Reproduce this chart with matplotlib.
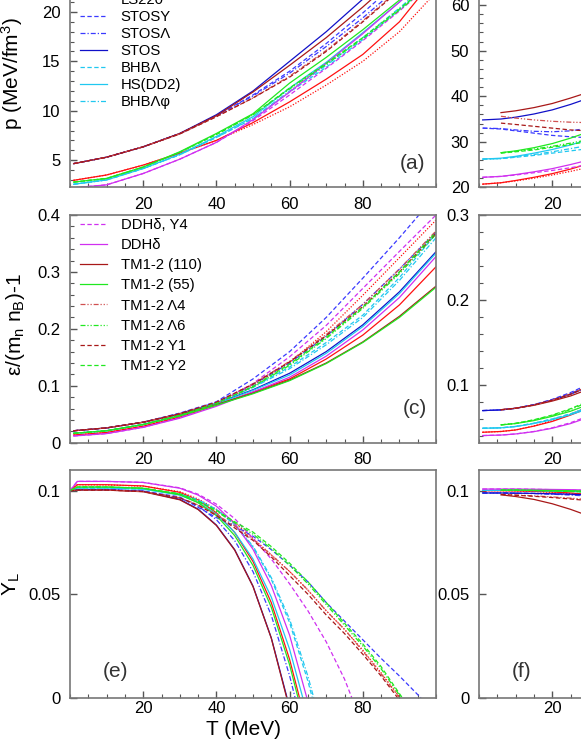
import matplotlib.pyplot as plt
from matplotlib.ticker import MultipleLocator, FixedLocator, FixedFormatter, FormatStrFormatter

plt.rcParams['font.family'] = ['Liberation Sans', 'DejaVu Sans']
plt.rcParams['mathtext.fontset'] = 'custom'
plt.rcParams['mathtext.rm'] = 'Liberation Sans'
plt.rcParams['mathtext.it'] = 'Liberation Sans'
plt.rcParams['mathtext.default'] = 'regular'

# temperature grids (MeV)
T = [1, 10, 20, 30, 40, 50, 60, 70, 80, 90, 100]
T_e = [0, 2, 10, 20, 30, 35, 40, 45, 50, 55, 60, 65, 70, 75, 80, 85, 90, 95]
T_r = [1, 6, 10, 15, 20, 25, 30]

nan = float('nan')

# (a) pressure, left column
p_left = {
    'LS220 hyp':     [2.96, 3.5, 4.5, 5.7, 7.0, 8.6, 10.4, 12.6, 15.0, 18.0, 22.0],
    'LS220':         [2.96, 3.5, 4.5, 5.7, 7.0, 8.8, 10.9, 13.2, 15.7, 19.0, 23.6],
    'STOSY':         [4.65, 5.3, 6.35, 7.7, 9.5, 11.6, 14.0, 16.8, 19.9, 23.2, 26.7],
    'STOSΛ':         [4.65, 5.3, 6.35, 7.7, 9.5, 11.5, 13.8, 16.5, 19.4, 22.6, 26.0],
    'STOS':          [4.65, 5.3, 6.35, 7.7, 9.6, 12.0, 15.0, 18.0, 21.3, 24.8, 28.5],
    'BHBΛ':          [2.56, 3.0, 4.15, 5.55, 7.3, 9.2, 11.9, 14.4, 17.2, 20.2, 23.4],
    'HS(DD2)':       [2.56, 3.0, 4.15, 5.6, 7.4, 9.4, 12.3, 14.9, 17.9, 21.0, 24.3],
    'BHBΛφ':         [2.56, 3.0, 4.15, 5.55, 7.3, 9.25, 12.0, 14.6, 17.4, 20.4, 23.6],
    'DDHδ, Y4':      [2.2, 2.5, 3.65, 5.1, 6.8, 9.0, 11.6, 14.3, 17.1, 20.1, 23.3],
    'DDHδ':          [2.2, 2.5, 3.65, 5.1, 6.8, 9.1, 11.9, 14.8, 17.8, 21.0, 24.4],
    'TM1-2 (110)':   [4.65, 5.3, 6.35, 7.7, 9.5, 11.9, 14.6, 17.4, 20.5, 23.8, 27.3],
    'TM1-2 (55)':    [2.78, 3.15, 4.3, 5.85, 7.7, 9.7, 12.8, 15.4, 18.2, 21.2, 24.4],
    'TM1-2 Λ4':      [4.65, 5.3, 6.35, 7.65, 9.4, 11.3, 13.5, 16.1, 19.1, 22.3, 25.8],
    'TM1-2 Λ6':      [2.78, 3.15, 4.3, 5.8, 7.6, 9.6, 12.2, 14.7, 17.3, 20.2, 23.2],
    'TM1-2 Y1':      [4.65, 5.3, 6.35, 7.65, 9.4, 11.3, 13.4, 16.0, 19.0, 22.2, 25.6],
    'TM1-2 Y2':      [2.78, 3.15, 4.3, 5.8, 7.6, 9.6, 12.3, 14.8, 17.4, 20.3, 23.4],
}

# (c) energy per baryon, left column
e_left = {
    'LS220 hyp':     [0.0135, 0.018, 0.029, 0.046, 0.069, 0.100, 0.141, 0.195, 0.259, 0.325, 0.391],
    'LS220':         [0.0135, 0.018, 0.029, 0.045, 0.066, 0.089, 0.112, 0.147, 0.189, 0.242, 0.309],
    'STOSY':         [0.021, 0.026, 0.036, 0.052, 0.072, 0.112, 0.160, 0.220, 0.289, 0.360, 0.435],
    'STOSΛ':         [0.021, 0.026, 0.036, 0.051, 0.071, 0.102, 0.140, 0.187, 0.243, 0.305, 0.370],
    'STOS':          [0.021, 0.026, 0.036, 0.051, 0.069, 0.093, 0.122, 0.160, 0.207, 0.265, 0.3355],
    'BHBΛ':          [0.0165, 0.021, 0.032, 0.048, 0.069, 0.098, 0.133, 0.176, 0.224, 0.290, 0.367],
    'HS(DD2)':       [0.0165, 0.021, 0.032, 0.048, 0.068, 0.092, 0.119, 0.157, 0.204, 0.262, 0.333],
    'BHBΛφ':         [0.0165, 0.021, 0.032, 0.048, 0.069, 0.097, 0.130, 0.172, 0.220, 0.285, 0.360],
    'DDHδ, Y4':      [0.0118, 0.016, 0.027, 0.044, 0.068, 0.104, 0.151, 0.206, 0.271, 0.336, 0.400],
    'DDHδ':          [0.0118, 0.016, 0.027, 0.043, 0.064, 0.089, 0.115, 0.152, 0.198, 0.255, 0.327],
    'TM1-2 (110)':   [0.021, 0.026, 0.036, 0.050, 0.067, 0.087, 0.110, 0.140, 0.177, 0.222, 0.275],
    'TM1-2 (55)':    [0.0165, 0.021, 0.032, 0.047, 0.066, 0.086, 0.109, 0.139, 0.176, 0.220, 0.273],
    'TM1-2 Λ4':      [0.021, 0.026, 0.036, 0.051, 0.071, 0.103, 0.143, 0.190, 0.243, 0.305, 0.372],
    'TM1-2 Λ6':      [0.0165, 0.021, 0.032, 0.048, 0.069, 0.098, 0.136, 0.183, 0.236, 0.297, 0.366],
    'TM1-2 Y1':      [0.021, 0.026, 0.036, 0.051, 0.071, 0.103, 0.142, 0.188, 0.239, 0.300, 0.368],
    'TM1-2 Y2':      [0.0165, 0.021, 0.032, 0.048, 0.069, 0.099, 0.138, 0.185, 0.238, 0.300, 0.370],
}

# (e) lepton fraction, left column, on T_e until the curve reaches zero at T0_e
yl_left = {
    'LS220 hyp':     [0.1, 0.1029, 0.1028, 0.1022, 0.0995, 0.096, 0.091, 0.0845, 0.077, 0.069, 0.061, 0.052, 0.042, 0.033, 0.023, 0.012],
    'LS220':         [0.1, 0.1029, 0.1029, 0.1023, 0.0992, 0.0955, 0.0893, 0.0798, 0.0658, 0.0459, 0.0185],
    'STOSY':         [0.1, 0.1005, 0.1005, 0.0998, 0.097, 0.092, 0.087, 0.083, 0.078, 0.0715, 0.064, 0.056, 0.046, 0.037, 0.028, 0.019, 0.0105, 0.0015],
    'STOSΛ':         [0.1, 0.1005, 0.1005, 0.0998, 0.0965, 0.0926, 0.086, 0.0759, 0.0609, 0.0398, 0.0106],
    'STOS':          [0.1, 0.1005, 0.1005, 0.0997, 0.0958, 0.0911, 0.0834, 0.0715, 0.0539, 0.0289],
    'BHBΛ':          [0.1, 0.1013, 0.1013, 0.1008, 0.0984, 0.0955, 0.0908, 0.0835, 0.0727, 0.0572, 0.0363, 0.008],
    'HS(DD2)':       [0.1, 0.1013, 0.1013, 0.1007, 0.0979, 0.0944, 0.0887, 0.0799, 0.067, 0.0486, 0.0234],
    'BHBΛφ':         [0.1, 0.1013, 0.1013, 0.1008, 0.0984, 0.0956, 0.091, 0.0838, 0.0732, 0.058, 0.0379, 0.0104],
    'DDHδ, Y4':      [0.1, 0.1045, 0.1045, 0.104, 0.1014, 0.0983, 0.0935, 0.0865, 0.077, 0.067, 0.055, 0.042, 0.027, 0.009],
    'DDHδ':          [0.1, 0.1045, 0.1045, 0.104, 0.1012, 0.0979, 0.0925, 0.0841, 0.0717, 0.0542, 0.0302],
    'TM1-2 (110)':   [0.1, 0.1003, 0.1003, 0.0995, 0.0956, 0.0909, 0.0832, 0.0713, 0.0537, 0.0287],
    'TM1-2 (55)':    [0.1, 0.1018, 0.1018, 0.1012, 0.098, 0.0942, 0.088, 0.0783, 0.0639, 0.0437, 0.0159],
    'TM1-2 Λ4':      [0.1, 0.1003, 0.1003, 0.0996, 0.0966, 0.0932, 0.0885, 0.083, 0.0765, 0.069, 0.061, 0.052, 0.042, 0.033, 0.0225, 0.0115],
    'TM1-2 Λ6':      [0.1, 0.1018, 0.1018, 0.1012, 0.0984, 0.0948, 0.09, 0.0845, 0.079, 0.072, 0.064, 0.055, 0.045, 0.035, 0.025, 0.014],
    'TM1-2 Y1':      [0.1, 0.1003, 0.1003, 0.0996, 0.0965, 0.093, 0.088, 0.082, 0.076, 0.068, 0.059, 0.05, 0.04, 0.031, 0.021, 0.0105],
    'TM1-2 Y2':      [0.1, 0.1018, 0.1018, 0.1012, 0.0985, 0.095, 0.0905, 0.085, 0.08, 0.073, 0.065, 0.056, 0.046, 0.036, 0.026, 0.015, 0.002],
}
T0_e = {
    'LS220 hyp': 90.2, 'LS220': 62.7, 'STOSY': 95.9, 'STOSΛ': 61.5, 'STOS': 59.3,
    'BHBΛ': 66.2, 'HS(DD2)': 63.6, 'BHBΛφ': 66.6, 'DDHδ, Y4': 77.0, 'DDHδ': 64.7,
    'TM1-2 (110)': 59.2, 'TM1-2 (55)': 62.3, 'TM1-2 Λ4': 90.0, 'TM1-2 Λ6': 90.5,
    'TM1-2 Y1': 89.5, 'TM1-2 Y2': 90.8,
}

# (b) pressure, right column
p_right = {
    'LS220 hyp':     [20.7, 21.0, 21.4, 22.0, 22.7, 23.5, 24.4],
    'LS220':         [20.7, 21.0, 21.5, 22.2, 23.0, 24.0, 25.2],
    'STOSY':         [33.0, 32.8, 32.4, 31.9, 31.4, 31.1, 30.9],
    'STOSΛ':         [33.0, 32.9, 32.6, 32.3, 32.2, 32.4, 33.0],
    'STOS':          [34.8, 35.0, 35.4, 36.1, 37.0, 38.2, 39.6],
    'BHBΛ':          [26.2, 26.3, 26.6, 27.0, 27.5, 28.0, 28.5],
    'HS(DD2)':       [26.2, 26.4, 26.8, 27.5, 28.3, 29.3, 30.5],
    'BHBΛφ':         [26.2, 26.3, 26.7, 27.2, 27.8, 28.5, 29.2],
    'DDHδ, Y4':      [22.2, 22.4, 22.7, 23.2, 23.7, 24.3, 25.0],
    'DDHδ':          [22.2, 22.4, 22.8, 23.4, 24.1, 25.0, 26.0],
    'TM1-2 (110)':   [nan, 36.4, 36.8, 37.5, 38.4, 39.6, 40.9],
    'TM1-2 (55)':    [nan, 27.6, 28.0, 28.7, 29.6, 30.8, 32.2],
    'TM1-2 Λ4':      [nan, 35.6, 35.2, 34.8, 34.5, 34.3, 34.2],
    'TM1-2 Λ6':      [nan, 27.6, 27.9, 28.4, 29.0, 29.7, 30.5],
    'TM1-2 Y1':      [nan, 34.1, 33.8, 33.4, 33.0, 32.6, 32.4],
    'TM1-2 Y2':      [nan, 27.5, 27.8, 28.2, 28.8, 29.4, 30.1],
}

# (d) energy per baryon, right column
e_right = {
    'LS220 hyp':     [0.0443, 0.0452, 0.047, 0.0518, 0.0578, 0.0655, 0.0745],
    'LS220':         [0.0443, 0.0452, 0.047, 0.0515, 0.057, 0.0645, 0.073],
    'STOSY':         [0.0698, 0.0706, 0.0725, 0.0768, 0.083, 0.091, 0.101],
    'STOSΛ':         [0.0698, 0.0706, 0.0725, 0.0766, 0.0825, 0.09, 0.099],
    'STOS':          [0.0698, 0.0706, 0.0725, 0.0765, 0.082, 0.089, 0.098],
    'BHBΛ':          [0.049, 0.0495, 0.051, 0.055, 0.06, 0.066, 0.074],
    'HS(DD2)':       [0.049, 0.0495, 0.051, 0.0545, 0.059, 0.065, 0.072],
    'BHBΛφ':         [0.049, 0.0495, 0.0512, 0.055, 0.0598, 0.0658, 0.0735],
    'DDHδ, Y4':      [0.0404, 0.041, 0.0423, 0.0452, 0.0495, 0.0555, 0.0635],
    'DDHδ':          [0.0404, 0.041, 0.0423, 0.045, 0.049, 0.0545, 0.062],
    'TM1-2 (110)':   [nan, 0.0708, 0.0725, 0.076, 0.081, 0.087, 0.095],
    'TM1-2 (55)':    [nan, 0.053, 0.0545, 0.058, 0.063, 0.069, 0.077],
    'TM1-2 Λ4':      [nan, 0.0708, 0.0726, 0.0765, 0.0822, 0.0895, 0.0985],
    'TM1-2 Λ6':      [nan, 0.053, 0.0547, 0.0588, 0.064, 0.071, 0.08],
    'TM1-2 Y1':      [nan, 0.0708, 0.0726, 0.0765, 0.082, 0.089, 0.098],
    'TM1-2 Y2':      [nan, 0.053, 0.0548, 0.059, 0.0645, 0.072, 0.081],
}

# (f) lepton fraction, right column
yl_right = {
    'LS220 hyp':     [0.1, 0.1, 0.0999, 0.0996, 0.0992, 0.0986, 0.0978],
    'LS220':         [0.1, 0.1, 0.0999, 0.0997, 0.0994, 0.0989, 0.0982],
    'STOSY':         [0.0989, 0.0989, 0.0988, 0.0987, 0.0985, 0.0982, 0.0978],
    'STOSΛ':         [0.0989, 0.0989, 0.0988, 0.0986, 0.0983, 0.0979, 0.0974],
    'STOS':          [0.0989, 0.0989, 0.0988, 0.0987, 0.0985, 0.0983, 0.098],
    'BHBΛ':          [0.1002, 0.1002, 0.1002, 0.1001, 0.0999, 0.0997, 0.0994],
    'HS(DD2)':       [0.1002, 0.1002, 0.1002, 0.1001, 0.1, 0.0999, 0.0997],
    'BHBΛφ':         [0.1002, 0.1002, 0.1002, 0.1001, 0.0999, 0.0997, 0.0995],
    'DDHδ, Y4':      [0.1008, 0.1008, 0.1008, 0.1007, 0.1005, 0.1003, 0.1],
    'DDHδ':          [0.1008, 0.1008, 0.1008, 0.1007, 0.1006, 0.1005, 0.1003],
    'TM1-2 (110)':   [nan, 0.098, 0.0972, 0.0958, 0.0937, 0.091, 0.0878],
    'TM1-2 (55)':    [nan, 0.1003, 0.1003, 0.1002, 0.1001, 0.1, 0.0998],
    'TM1-2 Λ4':      [nan, 0.0982, 0.0979, 0.0975, 0.097, 0.0964, 0.0957],
    'TM1-2 Λ6':      [nan, 0.1003, 0.1003, 0.1001, 0.0999, 0.0997, 0.0994],
    'TM1-2 Y1':      [nan, 0.0982, 0.0978, 0.0973, 0.0967, 0.096, 0.0952],
    'TM1-2 Y2':      [nan, 0.1003, 0.1003, 0.1001, 0.0999, 0.0996, 0.0993],
}

legend_a = ['LS220', 'STOSY', 'STOSΛ', 'STOS', 'BHBΛ', 'HS(DD2)', 'BHBΛφ']
legend_c = ['DDHδ, Y4', 'DDHδ', 'TM1-2 (110)', 'TM1-2 (55)', 'TM1-2 Λ4', 'TM1-2 Λ6', 'TM1-2 Y1', 'TM1-2 Y2']

x_ticks = [20, 40, 60, 80]
y_ticks = [[[5, 10, 15, 20], [20, 30, 40, 50, 60]],
           [[0, 0.1, 0.2, 0.3, 0.4], [0.1, 0.2, 0.3]],
           [[0, 0.05, 0.1], [0, 0.05, 0.1]]]

red, blue, dblue, cyan = '#ff1010', '#3a3aff', '#1010c8', '#20c8f0'
green, mag, brown, pink = '#20e820', '#d030f0', '#a81818', '#d05050'
dash = (0, (3.5, 2))
dashdot = (0, (4, 1.6, 1, 1.6))
dashdotdot = (0, (4, 1.5, 1, 1.5, 1, 1.5))
dot = (0, (1, 1.3))
style = {
    'LS220 hyp': (red, dot), 'LS220': (red, '-'),
    'STOSY': (blue, dash), 'STOSΛ': (blue, dashdot), 'STOS': (dblue, '-'),
    'BHBΛ': (cyan, dash), 'HS(DD2)': (cyan, '-'), 'BHBΛφ': (cyan, dashdot),
    'DDHδ, Y4': (mag, dash), 'DDHδ': (mag, '-'),
    'TM1-2 (110)': (brown, '-'), 'TM1-2 (55)': (green, '-'),
    'TM1-2 Λ4': (pink, dashdotdot), 'TM1-2 Λ6': (green, dashdotdot),
    'TM1-2 Y1': (brown, dash), 'TM1-2 Y2': (green, dash),
}

fig = plt.figure(figsize=(5.81, 7.52), dpi=100)
L, R, W, H = 70 / 581, 479 / 581, 366 / 581, 0.3028
bottoms = [0.7509, 0.4113, 0.0722]
axes = [[fig.add_axes([L, b, W, H]), fig.add_axes([R, b, W, H])] for b in bottoms]

lines_a = {}
for name in style:
    c, ls = style[name]
    kw = dict(color=c, linestyle=ls, lw=0.9)
    lines_a[name], = axes[0][0].plot(T, p_left[name], **kw)
    axes[0][1].plot(T_r, p_right[name], **kw)
    axes[1][0].plot(T, e_left[name], **kw)
    axes[1][1].plot(T_r, e_right[name], **kw)
    ys = yl_left[name]
    axes[2][0].plot(T_e[:len(ys)] + [T0_e[name]], ys + [0.0], **kw)
    axes[2][1].plot(T_r, yl_right[name], **kw)

ylims = [[(2.25, 25.3), (20, 70)], [(0, 0.4), (0.032, 0.3)], [(0, 0.11), (0, 0.11)]]
ymin = [[1, 2], [0.02, 0.02], [None, None]]
xpads = [7, 7, 2.5]
for i in range(3):
    for j in range(2):
        ax = axes[i][j]
        ax.set_xlim(0, 100)
        ax.set_ylim(*ylims[i][j])
        ax.xaxis.set_major_locator(FixedLocator(x_ticks))
        ax.xaxis.set_minor_locator(MultipleLocator(5))
        if j == 0:
            ax.xaxis.set_major_formatter(FormatStrFormatter('%g'))
        else:
            # only the first label of the right column lies inside the picture
            ax.xaxis.set_major_formatter(FixedFormatter(['20', '', '', '']))
        ax.yaxis.set_major_locator(FixedLocator(y_ticks[i][j]))
        if ymin[i][j]:
            ax.yaxis.set_minor_locator(MultipleLocator(ymin[i][j]))
        ax.yaxis.set_major_formatter(FormatStrFormatter('%g'))
        ax.tick_params(which='both', direction='in', top=False, right=False,
                       color='#555555', labelsize=12)
        ax.tick_params(which='major', length=5, width=1)
        ax.tick_params(which='minor', length=3, width=0.8)
        ax.tick_params(axis='y', pad=7)
        ax.tick_params(axis='x', pad=xpads[i])
        for s in ax.spines.values():
            s.set_color('#777777')
            s.set_linewidth(1.2)

axes[0][0].set_ylabel('p (MeV/fm$^3$)', fontsize=15)
axes[0][0].yaxis.set_label_coords(-0.123, 0.5)
axes[1][0].set_ylabel('ε/(m$_n$ n$_B$)-1', fontsize=15)
axes[1][0].yaxis.set_label_coords(-0.117, 0.52)
axes[2][0].set_ylabel('Y$_L$', fontsize=15)
axes[2][0].yaxis.set_label_coords(-0.131, 0.5)
axes[2][0].set_xlabel('T (MeV)', fontsize=15)
axes[2][0].xaxis.set_label_coords(0.475, -0.1)

leg_kw = dict(frameon=False, loc='upper left', fontsize=10.7, borderpad=0, borderaxespad=0,
              handlelength=1.8, handletextpad=0.95)
axes[0][0].legend([lines_a[n] for n in legend_a], legend_a, bbox_to_anchor=(0.027, 0.853),
                  labelspacing=0.2, **leg_kw)
axes[1][0].legend([lines_a[n] for n in legend_c], legend_c, bbox_to_anchor=(0.027, 0.988),
                  labelspacing=0.42, **leg_kw)

tag = dict(fontsize=15, color='#333333', ha='center', va='center')
axes[0][0].text(0.937, 0.106, '(a)', transform=axes[0][0].transAxes, **tag)
axes[1][0].text(0.943, 0.152, '(c)', transform=axes[1][0].transAxes, **tag)
axes[2][0].text(0.123, 0.113, '(e)', transform=axes[2][0].transAxes, **tag)
axes[2][1].text(0.117, 0.114, '(f)', transform=axes[2][1].transAxes, **tag)

fig.savefig('out.png', dpi=100)
